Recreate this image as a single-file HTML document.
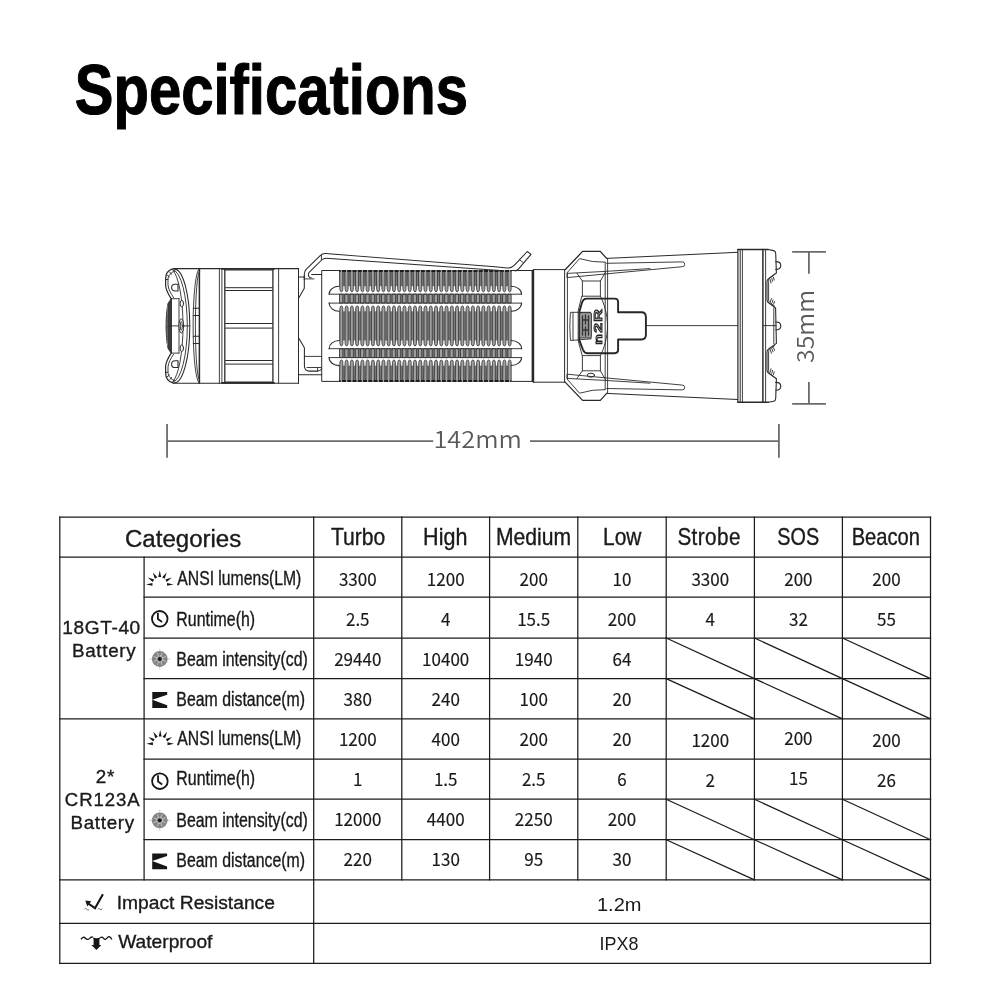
<!DOCTYPE html>
<html><head><meta charset="utf-8"><title>Specifications</title>
<style>html,body{margin:0;padding:0;background:#fff}svg{display:block;will-change:transform;opacity:0.999}text{white-space:pre}</style>
</head><body>
<svg width="990" height="991" viewBox="0 0 990 991">
<rect width="990" height="991" fill="#fff"/>
<g id="flashlight" fill="none" stroke="#2a2a2a" stroke-width="1.05" stroke-linejoin="round" stroke-linecap="round">
<path d="M173.40 268.60H298.60" stroke-width="1.1"/>
<path d="M173.40 383.20H298.60" stroke-width="1.1"/>
<path d="M199.40 268.60V383.20" stroke-width="1.5"/>
<path d="M219.40 268.60V383.20" stroke-width="0.9"/>
<path d="M221.90 268.60V383.20" stroke-width="0.9"/>
<path d="M224.80 268.60V383.20" stroke-width="1.3"/>
<path d="M272.90 268.60V383.20" stroke-width="1.3"/>
<path d="M278.60 268.60V383.20" stroke-width="0.9"/>
<path d="M298.50 268.60V383.20" stroke-width="1.0"/>
<path d="M222.00 268.90H274.10" stroke-width="1.6"/>
<path d="M222.00 382.90H274.10" stroke-width="1.6"/>
<path d="M225.60 269.90H272.30" />
<path d="M225.60 381.90H272.30" />
<path d="M225.60 287.70H272.30" stroke-width="1.0"/>
<path d="M225.60 290.50H272.30" stroke-width="1.0"/>
<path d="M225.60 323.50H272.30" stroke-width="1.0"/>
<path d="M225.60 328.10H272.30" stroke-width="1.0"/>
<path d="M225.60 360.50H272.30" stroke-width="1.0"/>
<path d="M225.60 364.10H272.30" stroke-width="1.0"/>
<path d="M174.5 269.1 A15.3 56.8 0 0 1 174.5 382.7" />
<path d="M173.2 269.8 A15.0 56.2 0 0 1 173.2 382.0" stroke-width="0.9"/>
<path d="M172.7 270 A13.2 57.3 0 0 1 172.7 381.79999999999995" stroke-width="0.9"/>
<path d="M199.4 268.6 A6.3 57.3 0 0 0 199.4 383.2" stroke-width="0.9"/>
<path d="M199.4 271.6 A4 54.3 0 0 0 199.4 380.2" stroke-width="0.9"/>
<path d="M193.3 308.3H199.4M193.3 315.5H199.4" />
<path d="M193.3 336.3H199.4M193.3 343.5H199.4" />
<path d="M173.4 268.60 C168.5 269.80 165.6 273.80 165.6 279.00 V285.50 C165.9 290.00 168.4 294.40 171.2 298.70" stroke-width="1.2"/>
<path d="M175.0 271.20 C171 272.30 168.0 275.50 168.0 279.50 V285.00 C168.3 289.00 170.6 293.00 173.6 297.60" stroke-width="0.9"/>
<path d="M169.8 272.20L171.6 274.40M167.4 275.20L169.4 276.80M166 279.50H168" stroke-width="0.9"/>
<path d="M178 284.30 H175 A3.4 3.35 0 0 0 175 291.00 H178 Z" stroke-width="1.1"/>
<path d="M171.20 298.70H179.00" stroke-width="0.9"/>
<path d="M173.4 383.20 C168.5 382.00 165.6 378.00 165.6 372.80 V366.30 C165.9 361.80 168.4 357.40 171.2 353.10" stroke-width="1.2"/>
<path d="M175.0 380.60 C171 379.50 168.0 376.30 168.0 372.30 V366.80 C168.3 362.80 170.6 358.80 173.6 354.20" stroke-width="0.9"/>
<path d="M169.8 379.60L171.6 377.40M167.4 376.60L169.4 375.00M166 372.30H168" stroke-width="0.9"/>
<path d="M178 367.50 H175 A3.4 3.35 0 0 1 175 360.80 H178 Z" stroke-width="1.1"/>
<path d="M171.20 353.10H179.00" stroke-width="0.9"/>
<path d="M171.2 298.7 L168.1 303.4 C166.7 310 166.1 318 166.1 325.9 C166.1 333.79999999999995 166.7 341.79999999999995 168.1 348.4 L171.2 353.09999999999997 Z" fill="#3c3c3c" stroke-width="1.0"/>
<path d="M167.6 306 C166.9 314 166.9 337.79999999999995 167.6 345.79999999999995" stroke="#9a9a9a" stroke-width="0.9" stroke-dasharray="1 1.2"/>
<path d="M179.00 298.70V353.10" stroke-width="0.9"/>
<path d="M169.00 325.90H189.60" stroke-width="0.9"/>
<ellipse cx="181.8" cy="303.6" rx="1.7" ry="3.3" stroke-width="1.0" fill="#fff"/>
<ellipse cx="181.8" cy="348.19999999999993" rx="1.7" ry="3.3" stroke-width="1.0" fill="#fff"/>
<ellipse cx="181.3" cy="325.9" rx="2.4" ry="7" stroke-width="1.0" fill="#fff"/>
<ellipse cx="181.3" cy="325.9" rx="1.0" ry="4.4" stroke-width="0.9"/>
<path d="M298.60 276.90H304.00" />
<path d="M311.70 274.40H322.10" />
<path d="M298.60 374.70H322.00" />
<path d="M304.3 276 V288.3 L298.9 297.8" />
<path d="M298.5 337.8 L304.4 347.8 V366 Q304.6 371.1 309.5 371.1 H318 Q321 370.6 321.6 368.6" />
<path d="M304.60 356.40H322.00" stroke-width="0.9"/>
<path d="M307.00 367.50H321.40" stroke-width="0.9"/>
<path d="M317.60 367.50V371.00" stroke-width="0.9"/>
<path d="M322.1 270.5 H533.6 V381.4 H322.1 Z" fill="#fff" stroke-width="1.0"/>
<path d="M532.40 270.50V381.40" stroke-width="1.6"/>
<rect x="339.2" y="270.90" width="172.00" height="15.30" fill="#7a7a7a" stroke="none"/>
<rect x="339.2" y="294.20" width="172.00" height="8.90" fill="#7a7a7a" stroke="none"/>
<rect x="339.2" y="311.30" width="172.00" height="29.20" fill="#7a7a7a" stroke="none"/>
<rect x="339.2" y="348.70" width="172.00" height="8.90" fill="#7a7a7a" stroke="none"/>
<rect x="339.2" y="365.60" width="172.00" height="15.30" fill="#7a7a7a" stroke="none"/>
<path d="M339.90 270.90H342.80V289.60Q342.60 291.80 341.35 291.80Q340.10 291.80 339.90 289.60ZM339.90 294.20H342.80V303.10H339.90ZM339.90 308.10Q340.10 305.90 341.35 305.90Q342.60 305.90 342.80 308.10V343.70Q342.60 345.90 341.35 345.90Q340.10 345.90 339.90 343.70ZM339.90 348.70H342.80V357.60H339.90ZM339.90 362.20Q340.10 360.00 341.35 360.00Q342.60 360.00 342.80 362.20V380.90H339.90ZM345.16 270.90H348.06V289.60Q347.86 291.80 346.61 291.80Q345.36 291.80 345.16 289.60ZM345.16 294.20H348.06V303.10H345.16ZM345.16 308.10Q345.36 305.90 346.61 305.90Q347.86 305.90 348.06 308.10V343.70Q347.86 345.90 346.61 345.90Q345.36 345.90 345.16 343.70ZM345.16 348.70H348.06V357.60H345.16ZM345.16 362.20Q345.36 360.00 346.61 360.00Q347.86 360.00 348.06 362.20V380.90H345.16ZM350.42 270.90H353.32V289.60Q353.12 291.80 351.87 291.80Q350.62 291.80 350.42 289.60ZM350.42 294.20H353.32V303.10H350.42ZM350.42 308.10Q350.62 305.90 351.87 305.90Q353.12 305.90 353.32 308.10V343.70Q353.12 345.90 351.87 345.90Q350.62 345.90 350.42 343.70ZM350.42 348.70H353.32V357.60H350.42ZM350.42 362.20Q350.62 360.00 351.87 360.00Q353.12 360.00 353.32 362.20V380.90H350.42ZM355.68 270.90H358.58V289.60Q358.38 291.80 357.13 291.80Q355.88 291.80 355.68 289.60ZM355.68 294.20H358.58V303.10H355.68ZM355.68 308.10Q355.88 305.90 357.13 305.90Q358.38 305.90 358.58 308.10V343.70Q358.38 345.90 357.13 345.90Q355.88 345.90 355.68 343.70ZM355.68 348.70H358.58V357.60H355.68ZM355.68 362.20Q355.88 360.00 357.13 360.00Q358.38 360.00 358.58 362.20V380.90H355.68ZM360.94 270.90H363.84V289.60Q363.64 291.80 362.39 291.80Q361.14 291.80 360.94 289.60ZM360.94 294.20H363.84V303.10H360.94ZM360.94 308.10Q361.14 305.90 362.39 305.90Q363.64 305.90 363.84 308.10V343.70Q363.64 345.90 362.39 345.90Q361.14 345.90 360.94 343.70ZM360.94 348.70H363.84V357.60H360.94ZM360.94 362.20Q361.14 360.00 362.39 360.00Q363.64 360.00 363.84 362.20V380.90H360.94ZM366.20 270.90H369.10V289.60Q368.90 291.80 367.65 291.80Q366.40 291.80 366.20 289.60ZM366.20 294.20H369.10V303.10H366.20ZM366.20 308.10Q366.40 305.90 367.65 305.90Q368.90 305.90 369.10 308.10V343.70Q368.90 345.90 367.65 345.90Q366.40 345.90 366.20 343.70ZM366.20 348.70H369.10V357.60H366.20ZM366.20 362.20Q366.40 360.00 367.65 360.00Q368.90 360.00 369.10 362.20V380.90H366.20ZM371.46 270.90H374.36V289.60Q374.16 291.80 372.91 291.80Q371.66 291.80 371.46 289.60ZM371.46 294.20H374.36V303.10H371.46ZM371.46 308.10Q371.66 305.90 372.91 305.90Q374.16 305.90 374.36 308.10V343.70Q374.16 345.90 372.91 345.90Q371.66 345.90 371.46 343.70ZM371.46 348.70H374.36V357.60H371.46ZM371.46 362.20Q371.66 360.00 372.91 360.00Q374.16 360.00 374.36 362.20V380.90H371.46ZM376.72 270.90H379.62V289.60Q379.42 291.80 378.17 291.80Q376.92 291.80 376.72 289.60ZM376.72 294.20H379.62V303.10H376.72ZM376.72 308.10Q376.92 305.90 378.17 305.90Q379.42 305.90 379.62 308.10V343.70Q379.42 345.90 378.17 345.90Q376.92 345.90 376.72 343.70ZM376.72 348.70H379.62V357.60H376.72ZM376.72 362.20Q376.92 360.00 378.17 360.00Q379.42 360.00 379.62 362.20V380.90H376.72ZM381.98 270.90H384.88V289.60Q384.68 291.80 383.43 291.80Q382.18 291.80 381.98 289.60ZM381.98 294.20H384.88V303.10H381.98ZM381.98 308.10Q382.18 305.90 383.43 305.90Q384.68 305.90 384.88 308.10V343.70Q384.68 345.90 383.43 345.90Q382.18 345.90 381.98 343.70ZM381.98 348.70H384.88V357.60H381.98ZM381.98 362.20Q382.18 360.00 383.43 360.00Q384.68 360.00 384.88 362.20V380.90H381.98ZM387.24 270.90H390.14V289.60Q389.94 291.80 388.69 291.80Q387.44 291.80 387.24 289.60ZM387.24 294.20H390.14V303.10H387.24ZM387.24 308.10Q387.44 305.90 388.69 305.90Q389.94 305.90 390.14 308.10V343.70Q389.94 345.90 388.69 345.90Q387.44 345.90 387.24 343.70ZM387.24 348.70H390.14V357.60H387.24ZM387.24 362.20Q387.44 360.00 388.69 360.00Q389.94 360.00 390.14 362.20V380.90H387.24ZM392.50 270.90H395.40V289.60Q395.20 291.80 393.95 291.80Q392.70 291.80 392.50 289.60ZM392.50 294.20H395.40V303.10H392.50ZM392.50 308.10Q392.70 305.90 393.95 305.90Q395.20 305.90 395.40 308.10V343.70Q395.20 345.90 393.95 345.90Q392.70 345.90 392.50 343.70ZM392.50 348.70H395.40V357.60H392.50ZM392.50 362.20Q392.70 360.00 393.95 360.00Q395.20 360.00 395.40 362.20V380.90H392.50ZM397.76 270.90H400.66V289.60Q400.46 291.80 399.21 291.80Q397.96 291.80 397.76 289.60ZM397.76 294.20H400.66V303.10H397.76ZM397.76 308.10Q397.96 305.90 399.21 305.90Q400.46 305.90 400.66 308.10V343.70Q400.46 345.90 399.21 345.90Q397.96 345.90 397.76 343.70ZM397.76 348.70H400.66V357.60H397.76ZM397.76 362.20Q397.96 360.00 399.21 360.00Q400.46 360.00 400.66 362.20V380.90H397.76ZM403.02 270.90H405.92V289.60Q405.72 291.80 404.47 291.80Q403.22 291.80 403.02 289.60ZM403.02 294.20H405.92V303.10H403.02ZM403.02 308.10Q403.22 305.90 404.47 305.90Q405.72 305.90 405.92 308.10V343.70Q405.72 345.90 404.47 345.90Q403.22 345.90 403.02 343.70ZM403.02 348.70H405.92V357.60H403.02ZM403.02 362.20Q403.22 360.00 404.47 360.00Q405.72 360.00 405.92 362.20V380.90H403.02ZM408.28 270.90H411.18V289.60Q410.98 291.80 409.73 291.80Q408.48 291.80 408.28 289.60ZM408.28 294.20H411.18V303.10H408.28ZM408.28 308.10Q408.48 305.90 409.73 305.90Q410.98 305.90 411.18 308.10V343.70Q410.98 345.90 409.73 345.90Q408.48 345.90 408.28 343.70ZM408.28 348.70H411.18V357.60H408.28ZM408.28 362.20Q408.48 360.00 409.73 360.00Q410.98 360.00 411.18 362.20V380.90H408.28ZM413.54 270.90H416.44V289.60Q416.24 291.80 414.99 291.80Q413.74 291.80 413.54 289.60ZM413.54 294.20H416.44V303.10H413.54ZM413.54 308.10Q413.74 305.90 414.99 305.90Q416.24 305.90 416.44 308.10V343.70Q416.24 345.90 414.99 345.90Q413.74 345.90 413.54 343.70ZM413.54 348.70H416.44V357.60H413.54ZM413.54 362.20Q413.74 360.00 414.99 360.00Q416.24 360.00 416.44 362.20V380.90H413.54ZM418.80 270.90H421.70V289.60Q421.50 291.80 420.25 291.80Q419.00 291.80 418.80 289.60ZM418.80 294.20H421.70V303.10H418.80ZM418.80 308.10Q419.00 305.90 420.25 305.90Q421.50 305.90 421.70 308.10V343.70Q421.50 345.90 420.25 345.90Q419.00 345.90 418.80 343.70ZM418.80 348.70H421.70V357.60H418.80ZM418.80 362.20Q419.00 360.00 420.25 360.00Q421.50 360.00 421.70 362.20V380.90H418.80ZM424.06 270.90H426.96V289.60Q426.76 291.80 425.51 291.80Q424.26 291.80 424.06 289.60ZM424.06 294.20H426.96V303.10H424.06ZM424.06 308.10Q424.26 305.90 425.51 305.90Q426.76 305.90 426.96 308.10V343.70Q426.76 345.90 425.51 345.90Q424.26 345.90 424.06 343.70ZM424.06 348.70H426.96V357.60H424.06ZM424.06 362.20Q424.26 360.00 425.51 360.00Q426.76 360.00 426.96 362.20V380.90H424.06ZM429.32 270.90H432.22V289.60Q432.02 291.80 430.77 291.80Q429.52 291.80 429.32 289.60ZM429.32 294.20H432.22V303.10H429.32ZM429.32 308.10Q429.52 305.90 430.77 305.90Q432.02 305.90 432.22 308.10V343.70Q432.02 345.90 430.77 345.90Q429.52 345.90 429.32 343.70ZM429.32 348.70H432.22V357.60H429.32ZM429.32 362.20Q429.52 360.00 430.77 360.00Q432.02 360.00 432.22 362.20V380.90H429.32ZM434.58 270.90H437.48V289.60Q437.28 291.80 436.03 291.80Q434.78 291.80 434.58 289.60ZM434.58 294.20H437.48V303.10H434.58ZM434.58 308.10Q434.78 305.90 436.03 305.90Q437.28 305.90 437.48 308.10V343.70Q437.28 345.90 436.03 345.90Q434.78 345.90 434.58 343.70ZM434.58 348.70H437.48V357.60H434.58ZM434.58 362.20Q434.78 360.00 436.03 360.00Q437.28 360.00 437.48 362.20V380.90H434.58ZM439.84 270.90H442.74V289.60Q442.54 291.80 441.29 291.80Q440.04 291.80 439.84 289.60ZM439.84 294.20H442.74V303.10H439.84ZM439.84 308.10Q440.04 305.90 441.29 305.90Q442.54 305.90 442.74 308.10V343.70Q442.54 345.90 441.29 345.90Q440.04 345.90 439.84 343.70ZM439.84 348.70H442.74V357.60H439.84ZM439.84 362.20Q440.04 360.00 441.29 360.00Q442.54 360.00 442.74 362.20V380.90H439.84ZM445.10 270.90H448.00V289.60Q447.80 291.80 446.55 291.80Q445.30 291.80 445.10 289.60ZM445.10 294.20H448.00V303.10H445.10ZM445.10 308.10Q445.30 305.90 446.55 305.90Q447.80 305.90 448.00 308.10V343.70Q447.80 345.90 446.55 345.90Q445.30 345.90 445.10 343.70ZM445.10 348.70H448.00V357.60H445.10ZM445.10 362.20Q445.30 360.00 446.55 360.00Q447.80 360.00 448.00 362.20V380.90H445.10ZM450.36 270.90H453.26V289.60Q453.06 291.80 451.81 291.80Q450.56 291.80 450.36 289.60ZM450.36 294.20H453.26V303.10H450.36ZM450.36 308.10Q450.56 305.90 451.81 305.90Q453.06 305.90 453.26 308.10V343.70Q453.06 345.90 451.81 345.90Q450.56 345.90 450.36 343.70ZM450.36 348.70H453.26V357.60H450.36ZM450.36 362.20Q450.56 360.00 451.81 360.00Q453.06 360.00 453.26 362.20V380.90H450.36ZM455.62 270.90H458.52V289.60Q458.32 291.80 457.07 291.80Q455.82 291.80 455.62 289.60ZM455.62 294.20H458.52V303.10H455.62ZM455.62 308.10Q455.82 305.90 457.07 305.90Q458.32 305.90 458.52 308.10V343.70Q458.32 345.90 457.07 345.90Q455.82 345.90 455.62 343.70ZM455.62 348.70H458.52V357.60H455.62ZM455.62 362.20Q455.82 360.00 457.07 360.00Q458.32 360.00 458.52 362.20V380.90H455.62ZM460.88 270.90H463.78V289.60Q463.58 291.80 462.33 291.80Q461.08 291.80 460.88 289.60ZM460.88 294.20H463.78V303.10H460.88ZM460.88 308.10Q461.08 305.90 462.33 305.90Q463.58 305.90 463.78 308.10V343.70Q463.58 345.90 462.33 345.90Q461.08 345.90 460.88 343.70ZM460.88 348.70H463.78V357.60H460.88ZM460.88 362.20Q461.08 360.00 462.33 360.00Q463.58 360.00 463.78 362.20V380.90H460.88ZM466.14 270.90H469.04V289.60Q468.84 291.80 467.59 291.80Q466.34 291.80 466.14 289.60ZM466.14 294.20H469.04V303.10H466.14ZM466.14 308.10Q466.34 305.90 467.59 305.90Q468.84 305.90 469.04 308.10V343.70Q468.84 345.90 467.59 345.90Q466.34 345.90 466.14 343.70ZM466.14 348.70H469.04V357.60H466.14ZM466.14 362.20Q466.34 360.00 467.59 360.00Q468.84 360.00 469.04 362.20V380.90H466.14ZM471.40 270.90H474.30V289.60Q474.10 291.80 472.85 291.80Q471.60 291.80 471.40 289.60ZM471.40 294.20H474.30V303.10H471.40ZM471.40 308.10Q471.60 305.90 472.85 305.90Q474.10 305.90 474.30 308.10V343.70Q474.10 345.90 472.85 345.90Q471.60 345.90 471.40 343.70ZM471.40 348.70H474.30V357.60H471.40ZM471.40 362.20Q471.60 360.00 472.85 360.00Q474.10 360.00 474.30 362.20V380.90H471.40ZM476.66 270.90H479.56V289.60Q479.36 291.80 478.11 291.80Q476.86 291.80 476.66 289.60ZM476.66 294.20H479.56V303.10H476.66ZM476.66 308.10Q476.86 305.90 478.11 305.90Q479.36 305.90 479.56 308.10V343.70Q479.36 345.90 478.11 345.90Q476.86 345.90 476.66 343.70ZM476.66 348.70H479.56V357.60H476.66ZM476.66 362.20Q476.86 360.00 478.11 360.00Q479.36 360.00 479.56 362.20V380.90H476.66ZM481.92 270.90H484.82V289.60Q484.62 291.80 483.37 291.80Q482.12 291.80 481.92 289.60ZM481.92 294.20H484.82V303.10H481.92ZM481.92 308.10Q482.12 305.90 483.37 305.90Q484.62 305.90 484.82 308.10V343.70Q484.62 345.90 483.37 345.90Q482.12 345.90 481.92 343.70ZM481.92 348.70H484.82V357.60H481.92ZM481.92 362.20Q482.12 360.00 483.37 360.00Q484.62 360.00 484.82 362.20V380.90H481.92ZM487.18 270.90H490.08V289.60Q489.88 291.80 488.63 291.80Q487.38 291.80 487.18 289.60ZM487.18 294.20H490.08V303.10H487.18ZM487.18 308.10Q487.38 305.90 488.63 305.90Q489.88 305.90 490.08 308.10V343.70Q489.88 345.90 488.63 345.90Q487.38 345.90 487.18 343.70ZM487.18 348.70H490.08V357.60H487.18ZM487.18 362.20Q487.38 360.00 488.63 360.00Q489.88 360.00 490.08 362.20V380.90H487.18ZM492.44 270.90H495.34V289.60Q495.14 291.80 493.89 291.80Q492.64 291.80 492.44 289.60ZM492.44 294.20H495.34V303.10H492.44ZM492.44 308.10Q492.64 305.90 493.89 305.90Q495.14 305.90 495.34 308.10V343.70Q495.14 345.90 493.89 345.90Q492.64 345.90 492.44 343.70ZM492.44 348.70H495.34V357.60H492.44ZM492.44 362.20Q492.64 360.00 493.89 360.00Q495.14 360.00 495.34 362.20V380.90H492.44ZM497.70 270.90H500.60V289.60Q500.40 291.80 499.15 291.80Q497.90 291.80 497.70 289.60ZM497.70 294.20H500.60V303.10H497.70ZM497.70 308.10Q497.90 305.90 499.15 305.90Q500.40 305.90 500.60 308.10V343.70Q500.40 345.90 499.15 345.90Q497.90 345.90 497.70 343.70ZM497.70 348.70H500.60V357.60H497.70ZM497.70 362.20Q497.90 360.00 499.15 360.00Q500.40 360.00 500.60 362.20V380.90H497.70ZM502.96 270.90H505.86V289.60Q505.66 291.80 504.41 291.80Q503.16 291.80 502.96 289.60ZM502.96 294.20H505.86V303.10H502.96ZM502.96 308.10Q503.16 305.90 504.41 305.90Q505.66 305.90 505.86 308.10V343.70Q505.66 345.90 504.41 345.90Q503.16 345.90 502.96 343.70ZM502.96 348.70H505.86V357.60H502.96ZM502.96 362.20Q503.16 360.00 504.41 360.00Q505.66 360.00 505.86 362.20V380.90H502.96ZM508.22 270.90H511.12V289.60Q510.92 291.80 509.67 291.80Q508.42 291.80 508.22 289.60ZM508.22 294.20H511.12V303.10H508.22ZM508.22 308.10Q508.42 305.90 509.67 305.90Q510.92 305.90 511.12 308.10V343.70Q510.92 345.90 509.67 345.90Q508.42 345.90 508.22 343.70ZM508.22 348.70H511.12V357.60H508.22ZM508.22 362.20Q508.42 360.00 509.67 360.00Q510.92 360.00 511.12 362.20V380.90H508.22Z" fill="#a0a0a0" stroke="#3a3a3a" stroke-width="0.85" stroke-linejoin="round"/>
<path d="M329.10 294.20H521.50" stroke="#3a3a3a" stroke-width="1.0"/>
<path d="M329.10 303.10H521.50" stroke="#3a3a3a" stroke-width="1.0"/>
<path d="M329.10 348.70H521.50" stroke="#3a3a3a" stroke-width="1.0"/>
<path d="M329.10 357.60H521.50" stroke="#3a3a3a" stroke-width="1.0"/>
<path d="M339.20 271.00H511.20" stroke="#1e1e1e" stroke-width="2.0" stroke-linecap="butt"/>
<path d="M339.20 380.90H511.20" stroke="#1e1e1e" stroke-width="2.0" stroke-linecap="butt"/>
<path d="M341.35 271.00h0.01M341.35 380.90h0.01M346.61 271.00h0.01M346.61 380.90h0.01M351.87 271.00h0.01M351.87 380.90h0.01M357.13 271.00h0.01M357.13 380.90h0.01M362.39 271.00h0.01M362.39 380.90h0.01M367.65 271.00h0.01M367.65 380.90h0.01M372.91 271.00h0.01M372.91 380.90h0.01M378.17 271.00h0.01M378.17 380.90h0.01M383.43 271.00h0.01M383.43 380.90h0.01M388.69 271.00h0.01M388.69 380.90h0.01M393.95 271.00h0.01M393.95 380.90h0.01M399.21 271.00h0.01M399.21 380.90h0.01M404.47 271.00h0.01M404.47 380.90h0.01M409.73 271.00h0.01M409.73 380.90h0.01M414.99 271.00h0.01M414.99 380.90h0.01M420.25 271.00h0.01M420.25 380.90h0.01M425.51 271.00h0.01M425.51 380.90h0.01M430.77 271.00h0.01M430.77 380.90h0.01M436.03 271.00h0.01M436.03 380.90h0.01M441.29 271.00h0.01M441.29 380.90h0.01M446.55 271.00h0.01M446.55 380.90h0.01M451.81 271.00h0.01M451.81 380.90h0.01M457.07 271.00h0.01M457.07 380.90h0.01M462.33 271.00h0.01M462.33 380.90h0.01M467.59 271.00h0.01M467.59 380.90h0.01M472.85 271.00h0.01M472.85 380.90h0.01M478.11 271.00h0.01M478.11 380.90h0.01M483.37 271.00h0.01M483.37 380.90h0.01M488.63 271.00h0.01M488.63 380.90h0.01M493.89 271.00h0.01M493.89 380.90h0.01M499.15 271.00h0.01M499.15 380.90h0.01M504.41 271.00h0.01M504.41 380.90h0.01M509.67 271.00h0.01M509.67 380.90h0.01" stroke="#f0f0f0" stroke-width="1.5" stroke-linecap="round"/>
<path d="M339.2 286.20 A10.1 7.9 0 0 0 329.1 294.20" />
<path d="M329.1 303.10 A10.1 8.2 0 0 0 339.2 311.30" />
<path d="M511.2 286.20 A10.6 7.9 0 0 1 521.6 294.20" />
<path d="M521.6 303.10 A10.6 8.2 0 0 1 511.2 311.30" />
<path d="M339.2 365.60 A10.1 7.9 0 0 1 329.1 357.60" />
<path d="M329.1 348.70 A10.1 8.2 0 0 1 339.2 340.50" />
<path d="M511.2 365.60 A10.6 7.9 0 0 0 521.6 357.60" />
<path d="M521.6 348.70 A10.6 8.2 0 0 0 511.2 340.50" />
<path d="M304.3 279.4 V274.2 Q304.4 271.4 306.1 269.4 L320.2 255.6 Q322.6 253.4 325.6 253.6 L495 266.8 L507 267.9 Q511.6 268.2 514.2 265.4 L527.3 251.5 L531 254.3 L518.4 269.2 Q517 270.8 515 271" stroke-width="1.05"/>
<path d="M500 270.4 L326.4 258.3 Q323.6 258.1 321.7 260 L309.4 272.2 Q308 273.6 308.4 275 L308.8 276.6 Q309.4 277.8 311.2 277.8" stroke-width="1.05"/>
<path d="M321.4 255 V259.8 M305 278.9 H313.9 M519.6 259.8 L523 262.4" stroke-width="0.9"/>
<path d="M533.60 269.60H565.60" stroke-width="1.0"/>
<path d="M533.60 382.20H565.60" stroke-width="1.0"/>
<path d="M533.60 269.60V382.20" />
<path d="M565.6 269.2 L582.6 251.4 H600.3 L606.6 258.4" stroke-width="1.3"/>
<path d="M565.6 382.59999999999997 L582.6 400.4 H600.3 L606.6 393.4" stroke-width="1.3"/>
<path d="M564.60 269.60V382.20" stroke-width="1.0"/>
<path d="M567.40 273.00V378.80" stroke-width="0.9"/>
<path d="M605.20 262.00V389.80" stroke-width="0.9"/>
<path d="M607.60 258.40V393.40" stroke-width="0.9"/>
<path d="M567.2 272.60 L579.6 258.60 Q592 262.50 604.8 262.20" stroke-width="0.9"/>
<path d="M577 273.40 L582.4 281.00 H600.4 L605.2 272.60" stroke-width="0.9"/>
<path d="M582.40 281.00V296.30" stroke-width="0.9"/>
<path d="M600.40 281.00V296.30" stroke-width="0.9"/>
<path d="M606.6 263.30 L682.3 261.90 A2.4 2.4 0 0 1 682.3 266.70 L567 277.60 V273.40 L605.2 271.40 L650 268.60" stroke-width="0.9"/>
<path d="M606.6 258.40 L737.6 252.30" stroke-width="1.0"/>
<path d="M567.2 379.20 L579.6 393.20 Q592 389.30 604.8 389.60" stroke-width="0.9"/>
<path d="M577 378.40 L582.4 370.80 H600.4 L605.2 379.20" stroke-width="0.9"/>
<path d="M582.40 370.80V355.50" stroke-width="0.9"/>
<path d="M600.40 370.80V355.50" stroke-width="0.9"/>
<path d="M606.6 388.50 L682.3 389.90 A2.4 2.4 0 0 0 682.3 385.10 L567 374.20 V378.40 L605.2 380.40 L650 383.20" stroke-width="0.9"/>
<path d="M606.6 393.40 L737.6 399.50" stroke-width="1.0"/>
<ellipse cx="590.9" cy="375.2" rx="3.6" ry="2" stroke-width="1.0"/>
<path d="M586.5 298.6 H614.6 Q618.1 298.6 618.1 302 V312.3 H641.5 Q645.9 312.3 645.9 317 V334.79999999999995 Q645.9 339.49999999999994 641.5 339.49999999999994 H618.1 V349.79999999999995 Q618.1 353.19999999999993 614.6 353.19999999999993 H587.5 Q584.5 353.19999999999993 583 349.79999999999995 L579.4 340.29999999999995 V311.5 L582.2 302 Q583.5 298.6 586.5 298.6 Z" stroke-width="1.9" stroke="#262626"/>
<path d="M582.2 296.2 H600.4 C604 303 607.4 314 607.5 325.9 C607.4 337.79999999999995 604 348.79999999999995 600.4 355.59999999999997 H582.2 L578.2 340.79999999999995 V311 Z" stroke-width="0.9"/>
<path d="M590.3 312.3 H570.4 Q569.2 325.9 570.4 340.49999999999994 L591.3 338.79999999999995" stroke-width="0.9"/>
<path d="M573.00 312.60V340.00" stroke-width="0.9"/>
<rect x="579.6" y="312.6" width="11.8" height="25.4" rx="1.2" fill="#9a9a9a" stroke="#2a2a2a" stroke-width="0.9"/>
<path d="M582.5 316 V335 M585.5 315 V324 M588.5 316 V335 M585.5 327 V336 M582.5 320 H588.5 M582.5 330 H588.5" stroke="#333" stroke-width="1.3"/>
<path d="M646.00 325.60H737.80" stroke-width="0.9"/>
<path d="M762.70 325.60H776.00" stroke-width="0.9"/>
<path d="M737.8 249.5 H768.2" stroke-width="1.6"/>
<path d="M737.8 402.29999999999995 H768.2" stroke-width="1.6"/>
<path d="M737.90 249.50V402.30" stroke-width="1.2"/>
<path d="M740.20 249.50V402.30" stroke-width="1.0"/>
<path d="M742.40 249.50V402.30" stroke-width="0.9"/>
<path d="M762.90 249.50V402.30" stroke-width="1.5"/>
<path d="M765.60 249.50V402.30" stroke-width="0.9"/>
<path d="M768.2 249.5 L773.6 250.6 Q775.6 251.2 775.7 253.4 L776.4 273 L768.2 279 Q767 280 767 282 V299.5 Q767 301.6 768.6 302.8 L775.6 308 L776.4 343.4 L768.6 348.99999999999994 Q767 350.19999999999993 767 352.29999999999995 V369.79999999999995 Q767 371.79999999999995 768.2 372.79999999999995 L776.4 378.79999999999995 L775.7 398.4 Q775.6 400.59999999999997 773.6 401.19999999999993 L768.2 402.29999999999995" stroke-width="1.1"/>
<path d="M773.4 275.4 L769.6 278.2 Q768.6 279.4 768.6 281.4 V300 Q768.6 301.4 769.8 302.4 L774.6 306 M774.6 345.79999999999995 L769.8 349.4 Q768.6 350.4 768.6 351.79999999999995 V370.4 Q768.6 372.4 769.6 373.59999999999997 L773.4 376.4" stroke-width="0.9"/>
<path d="M770.2 279.60L771 283.00M771.8 278.40L772.6 281.40M773.4 277.20L774.2 280.00M770.4 301.60L771.4 298.60M772 302.80L773 300.00M773.6 304.00L774.6 301.40" stroke-width="0.9"/>
<path d="M770.2 372.20L771 368.80M771.8 373.40L772.6 370.40M773.4 374.60L774.2 371.80M770.4 350.20L771.4 353.20M772 349.00L773 351.80M773.6 347.80L774.6 350.40" stroke-width="0.9"/>
<path d="M773.80 308.00V343.80" stroke-width="0.9"/>
<path d="M775.8 261.60 C779 261.60 780.8 263.10 780.8 265.50 C780.8 267.90 779 269.40 775.8 269.40" stroke-width="1.1"/>
<path d="M775.8 322.00 C779 322.00 780.8 323.50 780.8 325.90 C780.8 328.30 779 329.80 775.8 329.80" stroke-width="1.1"/>
<path d="M775.8 382.40 C779 382.40 780.8 383.90 780.8 386.30 C780.8 388.70 779 390.20 775.8 390.20" stroke-width="1.1"/>
</g>
<text transform="translate(601.6 326.2) rotate(-90) scale(1.5 1)" font-size="11.6" font-weight="bold" text-anchor="middle" fill="#c4c4c4" stroke="#222" stroke-width="0.95" style="font-family:'Liberation Sans',sans-serif" letter-spacing="0.9">n2R</text>
<path d="M152.45 582.95L145.95 584.40L152.45 585.85ZM154.15 579.49L147.80 577.50L152.70 582.01ZM157.36 577.35L152.85 572.45L154.84 578.80ZM161.20 577.10L159.75 570.60L158.30 577.10ZM164.66 578.80L166.65 572.45L162.14 577.35ZM166.80 582.01L171.70 577.50L165.35 579.49ZM167.05 585.85L173.55 584.40L167.05 582.95Z" fill="#161616"/>
<circle cx="159.75" cy="618.8" r="7.8" fill="none" stroke="#161616" stroke-width="1.8"/>
<path d="M157.90 612.90V619.10L162.05 622.00" fill="none" stroke="#161616" stroke-width="1.8" stroke-linejoin="miter"/>
<path d="M149.25 659H170.25M159.75 648.5V669.5" stroke="#b5b5b5" stroke-width="0.6"/>
<circle cx="159.75" cy="659" r="7.9" fill="#858585"/>
<path d="M162.71 660.22L165.85 661.53M160.97 661.96L162.28 665.10M158.53 661.96L157.22 665.10M156.79 660.22L153.65 661.53M156.79 657.78L153.65 656.47M158.53 656.04L157.22 652.90M160.97 656.04L162.28 652.90M162.71 657.78L165.85 656.47" stroke="#d8d8d8" stroke-width="0.7"/>
<circle cx="159.75" cy="659" r="3.1" fill="none" stroke="#f2f2f2" stroke-width="0.9" stroke-dasharray="1.4 1"/>
<circle cx="159.75" cy="659" r="1.9" fill="#1c1c1c"/>
<path d="M152.3 692.1H167.20000000000002V694.7L152.3 699.8000000000001Z M152.3 699.8000000000001L167.20000000000002 705.3000000000001V707.9H152.3Z" fill="#161616"/>
<path d="M152.90 742.35L146.40 743.80L152.90 745.25ZM154.60 738.89L148.25 736.90L153.15 741.41ZM157.81 736.75L153.30 731.85L155.29 738.20ZM161.65 736.50L160.20 730.00L158.75 736.50ZM165.11 738.20L167.10 731.85L162.59 736.75ZM167.25 741.41L172.15 736.90L165.80 738.89ZM167.50 745.25L174.00 743.80L167.50 742.35Z" fill="#161616"/>
<circle cx="159.9" cy="781.2" r="7.8" fill="none" stroke="#161616" stroke-width="1.8"/>
<path d="M158.05 775.30V781.50L162.20 784.40" fill="none" stroke="#161616" stroke-width="1.8" stroke-linejoin="miter"/>
<path d="M149.2 820.3H170.2M159.7 809.8V830.8" stroke="#b5b5b5" stroke-width="0.6"/>
<circle cx="159.7" cy="820.3" r="7.9" fill="#858585"/>
<path d="M162.66 821.52L165.80 822.83M160.92 823.26L162.23 826.40M158.48 823.26L157.17 826.40M156.74 821.52L153.60 822.83M156.74 819.08L153.60 817.77M158.48 817.34L157.17 814.20M160.92 817.34L162.23 814.20M162.66 819.08L165.80 817.77" stroke="#d8d8d8" stroke-width="0.7"/>
<circle cx="159.7" cy="820.3" r="3.1" fill="none" stroke="#f2f2f2" stroke-width="0.9" stroke-dasharray="1.4 1"/>
<circle cx="159.7" cy="820.3" r="1.9" fill="#1c1c1c"/>
<path d="M152.2 853.4H167.1V856.0L152.2 861.1Z M152.2 861.1L167.1 866.6V869.1999999999999H152.2Z" fill="#161616"/>
<path d="M102.9 894.2L95 908.2L87.6 903" fill="none" stroke="#161616" stroke-width="2.1" stroke-linejoin="miter"/>
<path d="M85.3 900.6L91.2 901.2L87.3 906.4Z" fill="#161616"/>
<path d="M84.4 909.3q1.2-1.8 2.4 0t2.4 0M97.6 909.3q1.2-1.8 2.4 0t2.2-.9" fill="none" stroke="#555" stroke-width="0.8"/>
<path d="M81 939.4q2.2-3.6 4.4-1.2t4.2.2q1.6-2 3.2-1.2M100.2 938q1.8-1.8 3.4.4t3.8-.8q2.4-2.6 4.4 2" fill="none" stroke="#161616" stroke-width="1.3"/>
<path d="M92.8 937.2L93.6 939.4V945H91.4L96.4 950L101.4 945H99.4V939.4L100.4 937.2Q96.5 939.4 92.8 937.2Z" fill="#161616"/>
<g stroke="#1c1c1c" stroke-width="1.25" fill="none" stroke-linecap="square">
<path d="M59.80 517.00L930.50 517.00"/>
<path d="M59.80 557.00L930.50 557.00"/>
<path d="M144.10 597.20L930.50 597.20"/>
<path d="M144.10 638.00L930.50 638.00"/>
<path d="M144.10 678.60L930.50 678.60"/>
<path d="M144.10 759.20L930.50 759.20"/>
<path d="M144.10 799.20L930.50 799.20"/>
<path d="M144.10 839.70L930.50 839.70"/>
<path d="M59.80 718.90L930.50 718.90"/>
<path d="M59.80 879.90L930.50 879.90"/>
<path d="M59.80 923.30L930.50 923.30"/>
<path d="M59.80 963.30L930.50 963.30"/>
<path d="M59.80 517.00L59.80 963.30"/>
<path d="M930.50 517.00L930.50 963.30"/>
<path d="M144.10 557.00L144.10 879.90"/>
<path d="M313.70 517.00L313.70 963.30"/>
<path d="M401.80 517.00L401.80 879.90"/>
<path d="M489.60 517.00L489.60 879.90"/>
<path d="M577.80 517.00L577.80 879.90"/>
<path d="M666.20 517.00L666.20 879.90"/>
<path d="M754.40 517.00L754.40 879.90"/>
<path d="M842.40 517.00L842.40 879.90"/>
<path d="M666.20 638.00L754.40 678.60"/>
<path d="M754.40 638.00L842.40 678.60"/>
<path d="M842.40 638.00L930.50 678.60"/>
<path d="M666.20 678.60L754.40 718.90"/>
<path d="M754.40 678.60L842.40 718.90"/>
<path d="M842.40 678.60L930.50 718.90"/>
<path d="M666.20 799.20L754.40 839.70"/>
<path d="M754.40 799.20L842.40 839.70"/>
<path d="M842.40 799.20L930.50 839.70"/>
<path d="M666.20 839.70L754.40 879.90"/>
<path d="M754.40 839.70L842.40 879.90"/>
<path d="M842.40 839.70L930.50 879.90"/>
</g>
<text transform="translate(357.75 585.50) scale(0.9450 1)" font-size="18" text-anchor="middle" fill="#1a1a1a" style="font-family:'Noto Sans CJK SC', 'Liberation Sans', sans-serif" stroke="#1a1a1a" stroke-width="0.15">3300</text>
<text transform="translate(445.70 585.50) scale(0.9450 1)" font-size="18" text-anchor="middle" fill="#1a1a1a" style="font-family:'Noto Sans CJK SC', 'Liberation Sans', sans-serif" stroke="#1a1a1a" stroke-width="0.15">1200</text>
<text transform="translate(533.70 585.50) scale(0.9450 1)" font-size="18" text-anchor="middle" fill="#1a1a1a" style="font-family:'Noto Sans CJK SC', 'Liberation Sans', sans-serif" stroke="#1a1a1a" stroke-width="0.15">200</text>
<text transform="translate(622.00 585.50) scale(0.9450 1)" font-size="18" text-anchor="middle" fill="#1a1a1a" style="font-family:'Noto Sans CJK SC', 'Liberation Sans', sans-serif" stroke="#1a1a1a" stroke-width="0.15">10</text>
<text transform="translate(710.30 585.50) scale(0.9450 1)" font-size="18" text-anchor="middle" fill="#1a1a1a" style="font-family:'Noto Sans CJK SC', 'Liberation Sans', sans-serif" stroke="#1a1a1a" stroke-width="0.15">3300</text>
<text transform="translate(798.40 585.50) scale(0.9450 1)" font-size="18" text-anchor="middle" fill="#1a1a1a" style="font-family:'Noto Sans CJK SC', 'Liberation Sans', sans-serif" stroke="#1a1a1a" stroke-width="0.15">200</text>
<text transform="translate(886.45 585.50) scale(0.9450 1)" font-size="18" text-anchor="middle" fill="#1a1a1a" style="font-family:'Noto Sans CJK SC', 'Liberation Sans', sans-serif" stroke="#1a1a1a" stroke-width="0.15">200</text>
<text transform="translate(357.75 625.60) scale(0.9450 1)" font-size="18" text-anchor="middle" fill="#1a1a1a" style="font-family:'Noto Sans CJK SC', 'Liberation Sans', sans-serif" stroke="#1a1a1a" stroke-width="0.15">2.5</text>
<text transform="translate(445.70 625.60) scale(0.9450 1)" font-size="18" text-anchor="middle" fill="#1a1a1a" style="font-family:'Noto Sans CJK SC', 'Liberation Sans', sans-serif" stroke="#1a1a1a" stroke-width="0.15">4</text>
<text transform="translate(533.70 625.60) scale(0.9450 1)" font-size="18" text-anchor="middle" fill="#1a1a1a" style="font-family:'Noto Sans CJK SC', 'Liberation Sans', sans-serif" stroke="#1a1a1a" stroke-width="0.15">15.5</text>
<text transform="translate(622.00 625.60) scale(0.9450 1)" font-size="18" text-anchor="middle" fill="#1a1a1a" style="font-family:'Noto Sans CJK SC', 'Liberation Sans', sans-serif" stroke="#1a1a1a" stroke-width="0.15">200</text>
<text transform="translate(710.30 625.60) scale(0.9450 1)" font-size="18" text-anchor="middle" fill="#1a1a1a" style="font-family:'Noto Sans CJK SC', 'Liberation Sans', sans-serif" stroke="#1a1a1a" stroke-width="0.15">4</text>
<text transform="translate(798.40 625.60) scale(0.9450 1)" font-size="18" text-anchor="middle" fill="#1a1a1a" style="font-family:'Noto Sans CJK SC', 'Liberation Sans', sans-serif" stroke="#1a1a1a" stroke-width="0.15">32</text>
<text transform="translate(886.45 625.60) scale(0.9450 1)" font-size="18" text-anchor="middle" fill="#1a1a1a" style="font-family:'Noto Sans CJK SC', 'Liberation Sans', sans-serif" stroke="#1a1a1a" stroke-width="0.15">55</text>
<text transform="translate(357.75 665.90) scale(0.9450 1)" font-size="18" text-anchor="middle" fill="#1a1a1a" style="font-family:'Noto Sans CJK SC', 'Liberation Sans', sans-serif" stroke="#1a1a1a" stroke-width="0.15">29440</text>
<text transform="translate(445.70 665.90) scale(0.9450 1)" font-size="18" text-anchor="middle" fill="#1a1a1a" style="font-family:'Noto Sans CJK SC', 'Liberation Sans', sans-serif" stroke="#1a1a1a" stroke-width="0.15">10400</text>
<text transform="translate(533.70 665.90) scale(0.9450 1)" font-size="18" text-anchor="middle" fill="#1a1a1a" style="font-family:'Noto Sans CJK SC', 'Liberation Sans', sans-serif" stroke="#1a1a1a" stroke-width="0.15">1940</text>
<text transform="translate(622.00 665.90) scale(0.9450 1)" font-size="18" text-anchor="middle" fill="#1a1a1a" style="font-family:'Noto Sans CJK SC', 'Liberation Sans', sans-serif" stroke="#1a1a1a" stroke-width="0.15">64</text>
<text transform="translate(357.75 705.90) scale(0.9450 1)" font-size="18" text-anchor="middle" fill="#1a1a1a" style="font-family:'Noto Sans CJK SC', 'Liberation Sans', sans-serif" stroke="#1a1a1a" stroke-width="0.15">380</text>
<text transform="translate(445.70 705.90) scale(0.9450 1)" font-size="18" text-anchor="middle" fill="#1a1a1a" style="font-family:'Noto Sans CJK SC', 'Liberation Sans', sans-serif" stroke="#1a1a1a" stroke-width="0.15">240</text>
<text transform="translate(533.70 705.90) scale(0.9450 1)" font-size="18" text-anchor="middle" fill="#1a1a1a" style="font-family:'Noto Sans CJK SC', 'Liberation Sans', sans-serif" stroke="#1a1a1a" stroke-width="0.15">100</text>
<text transform="translate(622.00 705.90) scale(0.9450 1)" font-size="18" text-anchor="middle" fill="#1a1a1a" style="font-family:'Noto Sans CJK SC', 'Liberation Sans', sans-serif" stroke="#1a1a1a" stroke-width="0.15">20</text>
<text transform="translate(357.75 745.50) scale(0.9450 1)" font-size="18" text-anchor="middle" fill="#1a1a1a" style="font-family:'Noto Sans CJK SC', 'Liberation Sans', sans-serif" stroke="#1a1a1a" stroke-width="0.15">1200</text>
<text transform="translate(445.70 745.50) scale(0.9450 1)" font-size="18" text-anchor="middle" fill="#1a1a1a" style="font-family:'Noto Sans CJK SC', 'Liberation Sans', sans-serif" stroke="#1a1a1a" stroke-width="0.15">400</text>
<text transform="translate(533.70 745.50) scale(0.9450 1)" font-size="18" text-anchor="middle" fill="#1a1a1a" style="font-family:'Noto Sans CJK SC', 'Liberation Sans', sans-serif" stroke="#1a1a1a" stroke-width="0.15">200</text>
<text transform="translate(622.00 745.50) scale(0.9450 1)" font-size="18" text-anchor="middle" fill="#1a1a1a" style="font-family:'Noto Sans CJK SC', 'Liberation Sans', sans-serif" stroke="#1a1a1a" stroke-width="0.15">20</text>
<text transform="translate(710.30 746.60) scale(0.9450 1)" font-size="18" text-anchor="middle" fill="#1a1a1a" style="font-family:'Noto Sans CJK SC', 'Liberation Sans', sans-serif" stroke="#1a1a1a" stroke-width="0.15">1200</text>
<text transform="translate(798.40 745.20) scale(0.9450 1)" font-size="18" text-anchor="middle" fill="#1a1a1a" style="font-family:'Noto Sans CJK SC', 'Liberation Sans', sans-serif" stroke="#1a1a1a" stroke-width="0.15">200</text>
<text transform="translate(886.45 746.60) scale(0.9450 1)" font-size="18" text-anchor="middle" fill="#1a1a1a" style="font-family:'Noto Sans CJK SC', 'Liberation Sans', sans-serif" stroke="#1a1a1a" stroke-width="0.15">200</text>
<text transform="translate(357.75 785.50) scale(0.9450 1)" font-size="18" text-anchor="middle" fill="#1a1a1a" style="font-family:'Noto Sans CJK SC', 'Liberation Sans', sans-serif" stroke="#1a1a1a" stroke-width="0.15">1</text>
<text transform="translate(445.70 785.50) scale(0.9450 1)" font-size="18" text-anchor="middle" fill="#1a1a1a" style="font-family:'Noto Sans CJK SC', 'Liberation Sans', sans-serif" stroke="#1a1a1a" stroke-width="0.15">1.5</text>
<text transform="translate(533.70 785.50) scale(0.9450 1)" font-size="18" text-anchor="middle" fill="#1a1a1a" style="font-family:'Noto Sans CJK SC', 'Liberation Sans', sans-serif" stroke="#1a1a1a" stroke-width="0.15">2.5</text>
<text transform="translate(622.00 785.50) scale(0.9450 1)" font-size="18" text-anchor="middle" fill="#1a1a1a" style="font-family:'Noto Sans CJK SC', 'Liberation Sans', sans-serif" stroke="#1a1a1a" stroke-width="0.15">6</text>
<text transform="translate(710.30 787.10) scale(0.9450 1)" font-size="18" text-anchor="middle" fill="#1a1a1a" style="font-family:'Noto Sans CJK SC', 'Liberation Sans', sans-serif" stroke="#1a1a1a" stroke-width="0.15">2</text>
<text transform="translate(798.40 785.00) scale(0.9450 1)" font-size="18" text-anchor="middle" fill="#1a1a1a" style="font-family:'Noto Sans CJK SC', 'Liberation Sans', sans-serif" stroke="#1a1a1a" stroke-width="0.15">15</text>
<text transform="translate(886.45 786.70) scale(0.9450 1)" font-size="18" text-anchor="middle" fill="#1a1a1a" style="font-family:'Noto Sans CJK SC', 'Liberation Sans', sans-serif" stroke="#1a1a1a" stroke-width="0.15">26</text>
<text transform="translate(357.75 825.50) scale(0.9450 1)" font-size="18" text-anchor="middle" fill="#1a1a1a" style="font-family:'Noto Sans CJK SC', 'Liberation Sans', sans-serif" stroke="#1a1a1a" stroke-width="0.15">12000</text>
<text transform="translate(445.70 825.50) scale(0.9450 1)" font-size="18" text-anchor="middle" fill="#1a1a1a" style="font-family:'Noto Sans CJK SC', 'Liberation Sans', sans-serif" stroke="#1a1a1a" stroke-width="0.15">4400</text>
<text transform="translate(533.70 825.50) scale(0.9450 1)" font-size="18" text-anchor="middle" fill="#1a1a1a" style="font-family:'Noto Sans CJK SC', 'Liberation Sans', sans-serif" stroke="#1a1a1a" stroke-width="0.15">2250</text>
<text transform="translate(622.00 825.50) scale(0.9450 1)" font-size="18" text-anchor="middle" fill="#1a1a1a" style="font-family:'Noto Sans CJK SC', 'Liberation Sans', sans-serif" stroke="#1a1a1a" stroke-width="0.15">200</text>
<text transform="translate(357.75 865.50) scale(0.9450 1)" font-size="18" text-anchor="middle" fill="#1a1a1a" style="font-family:'Noto Sans CJK SC', 'Liberation Sans', sans-serif" stroke="#1a1a1a" stroke-width="0.15">220</text>
<text transform="translate(445.70 865.50) scale(0.9450 1)" font-size="18" text-anchor="middle" fill="#1a1a1a" style="font-family:'Noto Sans CJK SC', 'Liberation Sans', sans-serif" stroke="#1a1a1a" stroke-width="0.15">130</text>
<text transform="translate(533.70 865.50) scale(0.9450 1)" font-size="18" text-anchor="middle" fill="#1a1a1a" style="font-family:'Noto Sans CJK SC', 'Liberation Sans', sans-serif" stroke="#1a1a1a" stroke-width="0.15">95</text>
<text transform="translate(622.00 865.50) scale(0.9450 1)" font-size="18" text-anchor="middle" fill="#1a1a1a" style="font-family:'Noto Sans CJK SC', 'Liberation Sans', sans-serif" stroke="#1a1a1a" stroke-width="0.15">30</text>
<g stroke="#6a6a6a" stroke-width="1.8" fill="none">
<path d="M167.05 424.10L167.05 457.70"/>
<path d="M778.90 424.10L778.90 457.70"/>
<path d="M167.05 441.10L433.20 441.10"/>
<path d="M530.00 441.10L778.90 441.10"/>
<path d="M792.10 251.90L825.90 251.90"/>
<path d="M792.10 403.80L825.90 403.80"/>
<path d="M808.90 251.90L808.90 273.80"/>
<path d="M808.90 382.10L808.90 403.80"/>
</g>
<text transform="translate(814 326.4) rotate(-90) scale(1.06 1)" font-size="23.5" text-anchor="middle" fill="#5a5a5a" font-weight="350" style="font-family:'Noto Sans CJK SC', 'Liberation Sans', sans-serif">35mm</text>
<text transform="translate(74.77 114.30) scale(0.8228 1)" font-size="70.5" text-anchor="start" fill="#000" font-weight="bold" style="font-family:'Liberation Sans', sans-serif" stroke="#000" stroke-width="1.1" stroke-linejoin="round">Specifications</text>
<text transform="translate(124.98 546.60) scale(1.0241 1)" font-size="23.5" text-anchor="start" fill="#1a1a1a" style="font-family:'Liberation Sans', sans-serif" stroke="#1a1a1a" stroke-width="0.35">Categories</text>
<text transform="translate(330.97 544.80) scale(0.9106 1)" font-size="23.2" text-anchor="start" fill="#1a1a1a" style="font-family:'Liberation Sans', sans-serif" stroke="#1a1a1a" stroke-width="0.35">Turbo</text>
<text transform="translate(423.08 544.80) scale(0.9281 1)" font-size="23.2" text-anchor="start" fill="#1a1a1a" style="font-family:'Liberation Sans', sans-serif" stroke="#1a1a1a" stroke-width="0.35">High</text>
<text transform="translate(495.90 544.80) scale(0.9123 1)" font-size="23.2" text-anchor="start" fill="#1a1a1a" style="font-family:'Liberation Sans', sans-serif" stroke="#1a1a1a" stroke-width="0.35">Medium</text>
<text transform="translate(603.02 544.80) scale(0.9024 1)" font-size="23.2" text-anchor="start" fill="#1a1a1a" style="font-family:'Liberation Sans', sans-serif" stroke="#1a1a1a" stroke-width="0.35">Low</text>
<text transform="translate(677.41 544.80) scale(0.8899 1)" font-size="23.2" text-anchor="start" fill="#1a1a1a" letter-spacing="0.5" style="font-family:'Liberation Sans', sans-serif" stroke="#1a1a1a" stroke-width="0.35">Strobe</text>
<text transform="translate(777.34 544.80) scale(0.8553 1)" font-size="23.2" text-anchor="start" fill="#1a1a1a" style="font-family:'Liberation Sans', sans-serif" stroke="#1a1a1a" stroke-width="0.35">SOS</text>
<text transform="translate(851.68 544.80) scale(0.8689 1)" font-size="23.2" text-anchor="start" fill="#1a1a1a" style="font-family:'Liberation Sans', sans-serif" stroke="#1a1a1a" stroke-width="0.35">Beacon</text>
<text transform="translate(177.30 585.30) scale(0.8152 1)" font-size="19.3" text-anchor="start" fill="#1a1a1a" style="font-family:'Liberation Sans', sans-serif" stroke="#1a1a1a" stroke-width="0.35">ANSI lumens(LM)</text>
<text transform="translate(176.36 625.50) scale(0.8248 1)" font-size="19.3" text-anchor="start" fill="#1a1a1a" style="font-family:'Liberation Sans', sans-serif" stroke="#1a1a1a" stroke-width="0.35">Runtime(h)</text>
<text transform="translate(176.36 665.50) scale(0.8235 1)" font-size="19.3" text-anchor="start" fill="#1a1a1a" style="font-family:'Liberation Sans', sans-serif" stroke="#1a1a1a" stroke-width="0.35">Beam intensity(cd)</text>
<text transform="translate(176.37 705.50) scale(0.8214 1)" font-size="19.3" text-anchor="start" fill="#1a1a1a" style="font-family:'Liberation Sans', sans-serif" stroke="#1a1a1a" stroke-width="0.35">Beam distance(m)</text>
<text transform="translate(177.30 745.30) scale(0.8152 1)" font-size="19.3" text-anchor="start" fill="#1a1a1a" style="font-family:'Liberation Sans', sans-serif" stroke="#1a1a1a" stroke-width="0.35">ANSI lumens(LM)</text>
<text transform="translate(176.36 785.40) scale(0.8248 1)" font-size="19.3" text-anchor="start" fill="#1a1a1a" style="font-family:'Liberation Sans', sans-serif" stroke="#1a1a1a" stroke-width="0.35">Runtime(h)</text>
<text transform="translate(176.36 826.50) scale(0.8235 1)" font-size="19.3" text-anchor="start" fill="#1a1a1a" style="font-family:'Liberation Sans', sans-serif" stroke="#1a1a1a" stroke-width="0.35">Beam intensity(cd)</text>
<text transform="translate(176.37 866.70) scale(0.8214 1)" font-size="19.3" text-anchor="start" fill="#1a1a1a" style="font-family:'Liberation Sans', sans-serif" stroke="#1a1a1a" stroke-width="0.35">Beam distance(m)</text>
<text transform="translate(62.32 633.60) scale(1.0263 1)" font-size="18.6" text-anchor="start" fill="#1a1a1a" letter-spacing="0.6" style="font-family:'Liberation Sans', sans-serif" stroke="#1a1a1a" stroke-width="0.35">18GT-40</text>
<text transform="translate(71.94 656.90) scale(1.0097 1)" font-size="18.6" text-anchor="start" fill="#1a1a1a" letter-spacing="0.7" style="font-family:'Liberation Sans', sans-serif" stroke="#1a1a1a" stroke-width="0.35">Battery</text>
<text transform="translate(95.84 782.60) scale(1.0145 1)" font-size="18.6" text-anchor="start" fill="#1a1a1a" letter-spacing="0.6" style="font-family:'Liberation Sans', sans-serif" stroke="#1a1a1a" stroke-width="0.35">2*</text>
<text transform="translate(64.85 805.70) scale(0.9993 1)" font-size="18.6" text-anchor="start" fill="#1a1a1a" letter-spacing="0.9" style="font-family:'Liberation Sans', sans-serif" stroke="#1a1a1a" stroke-width="0.35">CR123A</text>
<text transform="translate(70.44 828.90) scale(1.0097 1)" font-size="18.6" text-anchor="start" fill="#1a1a1a" letter-spacing="0.7" style="font-family:'Liberation Sans', sans-serif" stroke="#1a1a1a" stroke-width="0.35">Battery</text>
<text transform="translate(116.68 909.10) scale(1.0133 1)" font-size="19" text-anchor="start" fill="#1a1a1a" style="font-family:'Liberation Sans', sans-serif" stroke="#1a1a1a" stroke-width="0.35">Impact Resistance</text>
<text transform="translate(118.20 947.60) scale(1.0107 1)" font-size="19" text-anchor="start" fill="#1a1a1a" style="font-family:'Liberation Sans', sans-serif" stroke="#1a1a1a" stroke-width="0.35">Waterproof</text>
<text transform="translate(596.92 910.50) scale(1.0557 1)" font-size="19" text-anchor="start" fill="#1a1a1a" style="font-family:'Liberation Sans', sans-serif" >1.2m</text>
<text transform="translate(599.57 950.30) scale(0.9333 1)" font-size="19.2" text-anchor="start" fill="#1a1a1a" style="font-family:'Liberation Sans', sans-serif" >IPX8</text>
<text transform="translate(433.44 447.50) scale(1.0804 1)" font-size="23.5" text-anchor="start" fill="#5a5a5a" font-weight="350" style="font-family:'Noto Sans CJK SC', 'Liberation Sans', sans-serif" >142mm</text>
</svg>
</body></html>
